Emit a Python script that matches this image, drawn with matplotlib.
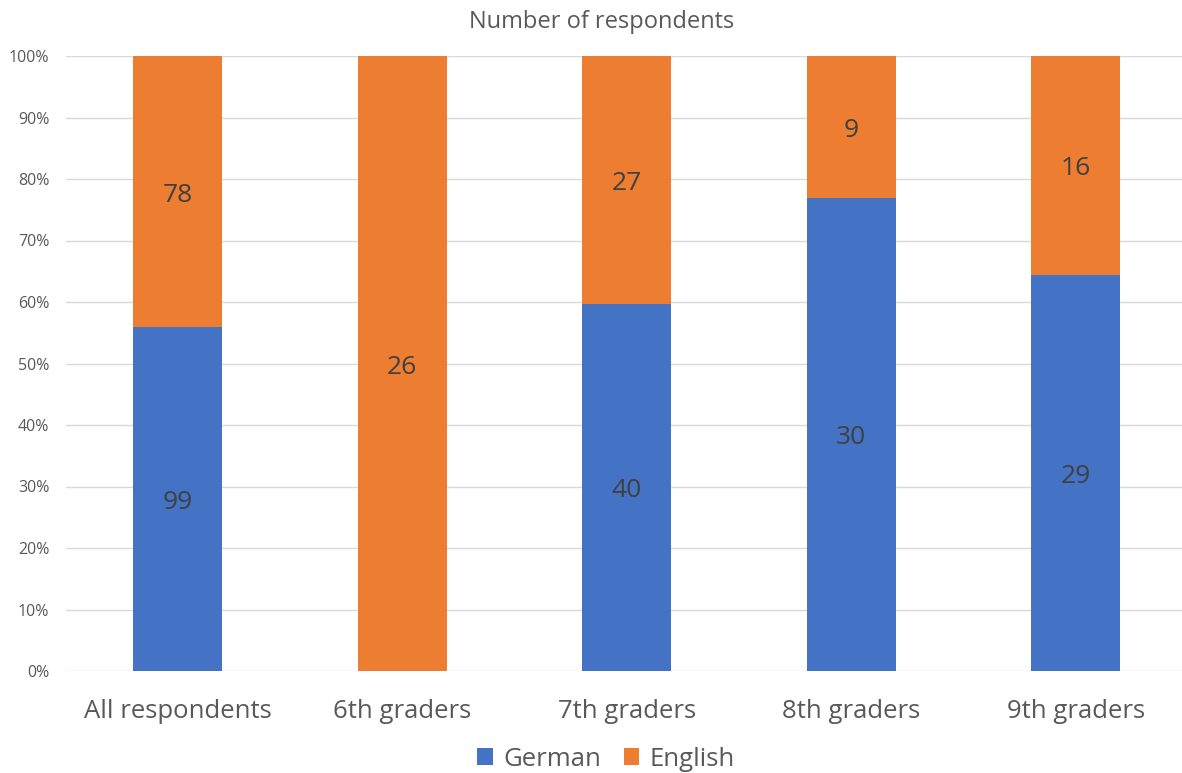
import matplotlib.pyplot as plt
import matplotlib.transforms as mtransforms
import numpy as np

plt.rcParams['font.family'] = ['Open Sans', 'DejaVu Sans']

# data
categories = ['All respondents', '6th graders', '7th graders', '8th graders', '9th graders']
german = [99, 0, 40, 30, 29]
english = [78, 26, 27, 9, 16]

blue = '#4472C4'
orange = '#ED7D31'
txt = '#404040'

g = np.array(german, dtype=float)
e = np.array(english, dtype=float)
tot = g + e
g_pct = g / tot * 100
e_pct = e / tot * 100

fig = plt.figure(figsize=(11.82, 7.73), dpi=100)
ax = fig.add_axes([66 / 1182, 102 / 773, (1182 - 66) / 1182, 615 / 773])

x = np.arange(len(categories))
w = 0.396
ax.bar(x, g_pct, w, color=blue, label='German', zorder=2)
ax.bar(x, e_pct, w, bottom=g_pct, color=orange, label='English', zorder=2)

# nudge data labels a few pixels down
shift = mtransforms.offset_copy(ax.transData, fig=fig, x=0, y=-3.5, units='dots')
for i in range(len(categories)):
    if german[i] > 0:
        ax.text(x[i], g_pct[i] / 2, str(german[i]), ha='center', va='center',
                fontsize=19, color=txt, transform=shift)
    if english[i] > 0:
        ax.text(x[i], g_pct[i] + e_pct[i] / 2, str(english[i]), ha='center', va='center',
                fontsize=19, color=txt, transform=shift)

ax.set_xlim(-0.497, 4.474)
ax.set_ylim(0, 100)
ax.set_yticks(np.arange(0, 101, 10))
ax.set_yticklabels([f'{v}%' for v in range(0, 101, 10)])
ax.yaxis.grid(True, color='#D9D9D9', linewidth=1, zorder=0)
ax.set_axisbelow(True)
for s in ax.spines.values():
    s.set_visible(False)
ax.tick_params(axis='y', length=0, labelsize=11.5, labelcolor='#595959', pad=12)
ax.tick_params(axis='x', length=0, labelsize=18.5, labelcolor='#595959', pad=20)
ax.set_xticks(x)
ax.set_xticklabels(categories)

fig.text(602 / 1182, 1 - 22 / 773, 'Number of respondents', ha='center', va='center',
         fontsize=17, color='#595959')

fig.legend(loc='center', bbox_to_anchor=(606 / 1182, 1 - 759 / 773), ncol=2, frameon=False,
           fontsize=18.5, labelcolor='#595959', handlelength=0.6, handleheight=0.6,
           handletextpad=0.4, columnspacing=0.89)

fig.savefig('out.png', dpi=100)
